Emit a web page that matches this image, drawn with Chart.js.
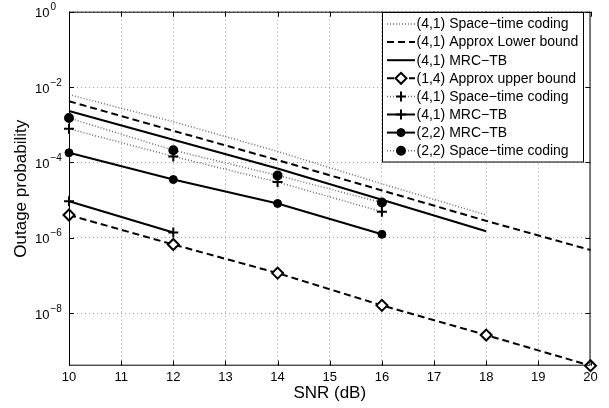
<!DOCTYPE html>
<html>
<head>
<meta charset="utf-8">
<script src="https://cdn.jsdelivr.net/npm/chart.js@4.4.1/dist/chart.umd.min.js"></script>
<style>
  html, body { margin: 0; padding: 0; background: #fff; }
  #wrap { width: 609px; height: 408px; position: relative; }
</style>
</head>
<body>
<div id="wrap"><canvas id="chart"></canvas></div>
<script>
// SNR values (dB)
const snr10to20 = [10, 12, 14, 16, 18, 20];
const snr10to18 = [10, 12, 14, 16, 18];
const snr10to16 = [10, 12, 14, 16];
const snr10to12 = [10, 12];
const xTicks = [10, 11, 12, 13, 14, 15, 16, 17, 18, 19, 20];
const yTickExp = [0, -2, -4, -6, -8];

// outage probability
const stc41 = [6.3e-3, 1.2e-3, 1.95e-4, 2.7e-5, 4.0e-6];
const lower41 = [4.2e-3, 6.9e-4, 1.15e-4, 1.8e-5, 2.8e-6, 4.7e-7];
const mrc41 = [2.3e-3, 4.0e-4, 6.9e-5, 1.02e-5, 1.48e-6];
const upper14 = [4.0e-6, 6.6e-7, 1.15e-7, 1.6e-8, 2.6e-9, 4.0e-10];
const stc41Plus = [7.8e-4, 1.44e-4, 3.0e-5, 4.9e-6];
const mrc41Plus = [9.3e-6, 1.38e-6];
const mrc22 = [1.8e-4, 3.5e-5, 8.1e-6, 1.23e-6];
const stc22 = [1.5e-3, 2.1e-4, 4.5e-5, 8.6e-6];

const labels = [
  '(4,1) Space\u2212time coding',
  '(4,1) Approx Lower bound',
  '(4,1) MRC\u2212TB',
  '(1,4) Approx upper bound',
  '(4,1) Space\u2212time coding',
  '(4,1) MRC\u2212TB',
  '(2,2) MRC\u2212TB',
  '(2,2) Space\u2212time coding'
];

function pts(xs, ys) { return xs.map((x, i) => ({ x: x, y: ys[i] })); }

const FONT = '"Liberation Sans", Arial, Helvetica, sans-serif';
const GREY = '#6a6a6a';

function dotted(label, data, marker) {
  return {
    label: label, data: data,
    borderColor: GREY, borderWidth: 1.5, borderDash: [1, 2],
    pointStyle: marker || false, pointRadius: marker ? (marker === 'circle' ? 4 : 5) : 0,
    pointBorderColor: '#000', pointBackgroundColor: '#000', pointBorderWidth: 2,
    clip: false
  };
}

const datasets = [
  dotted(labels[0], pts(snr10to18, stc41)),
  { label: labels[1], data: pts(snr10to20, lower41), borderColor: '#000', borderWidth: 2,
    borderDash: [7, 4], pointRadius: 0, pointStyle: false, clip: false },
  { label: labels[2], data: pts(snr10to18, mrc41), borderColor: '#000', borderWidth: 2,
    pointRadius: 0, pointStyle: false, clip: false },
  { label: labels[3], data: pts(snr10to20, upper14), borderColor: '#000', borderWidth: 2,
    borderDash: [7, 4], pointStyle: 'rectRot', pointRadius: 5.5, pointBorderWidth: 2,
    pointBorderColor: '#000', pointBackgroundColor: '#fff', clip: false },
  dotted(labels[4], pts(snr10to16, stc41Plus), 'cross'),
  { label: labels[5], data: pts(snr10to12, mrc41Plus), borderColor: '#000', borderWidth: 2,
    pointStyle: 'cross', pointRadius: 5, pointBorderWidth: 2, pointBorderColor: '#000', clip: false },
  { label: labels[6], data: pts(snr10to16, mrc22), borderColor: '#000', borderWidth: 2,
    pointStyle: 'circle', pointRadius: 4, pointBorderWidth: 1, pointBorderColor: '#000',
    pointBackgroundColor: '#000', clip: false },
  dotted(labels[7], pts(snr10to16, stc22), 'circle')
];

// box, inward ticks, y tick labels, axis titles, legend
const matlabAxes = {
  id: 'matlabAxes',
  afterDatasetsDraw(chart) {
    const ctx = chart.ctx;
    const a = chart.chartArea;
    const xs = chart.scales.x, ys = chart.scales.y;
    ctx.save();
    ctx.strokeStyle = '#000';
    ctx.lineWidth = 1;
    ctx.strokeRect(a.left + 0.5, a.top + 0.5, a.right - a.left - 1, a.bottom - a.top - 1);
    const tl = 5;
    ctx.beginPath();
    xTicks.forEach(v => {
      const x = Math.round(xs.getPixelForValue(v)) + 0.5;
      ctx.moveTo(x, a.bottom); ctx.lineTo(x, a.bottom - tl);
      ctx.moveTo(x, a.top); ctx.lineTo(x, a.top + tl);
    });
    yTickExp.forEach(e => {
      const y = Math.round(ys.getPixelForValue(Math.pow(10, e))) + 0.5;
      ctx.moveTo(a.left, y); ctx.lineTo(a.left + tl, y);
      ctx.moveTo(a.right, y); ctx.lineTo(a.right - tl, y);
    });
    ctx.stroke();

    // y tick labels 10^n
    ctx.fillStyle = '#000';
    yTickExp.forEach(e => {
      const y = ys.getPixelForValue(Math.pow(10, e));
      ctx.font = '13px ' + FONT;
      ctx.textAlign = 'right';
      ctx.textBaseline = 'middle';
      ctx.fillText('10', 49.5, y + 2);
      ctx.font = '10px ' + FONT;
      ctx.textAlign = 'left';
      ctx.fillText(e === 0 ? '0' : '\u2212' + (-e), 50.5, y - 4);
    });

    // axis titles
    ctx.font = '17px ' + FONT;
    ctx.textAlign = 'center';
    ctx.textBaseline = 'middle';
    ctx.fillText('SNR (dB)', (a.left + a.right) / 2, 393);
    ctx.save();
    ctx.translate(21, (a.top + a.bottom) / 2);
    ctx.rotate(-Math.PI / 2);
    ctx.fillText('Outage probability', 0, 0);
    ctx.restore();
    ctx.restore();
  },
  afterDraw(chart) {
    const ctx = chart.ctx;
    const bx = 382.5, by = 12.5, bw = 201, bh = 149.5;
    ctx.save();
    ctx.fillStyle = '#fff';
    ctx.fillRect(bx, by, bw, bh);
    ctx.strokeStyle = '#000';
    ctx.lineWidth = 1;
    ctx.strokeRect(bx, by, bw, bh);
    chart.data.datasets.forEach((ds, i) => {
      const y = 24 + i * 18.1;
      ctx.save();
      ctx.strokeStyle = ds.borderColor;
      ctx.lineWidth = ds.borderWidth;
      ctx.setLineDash(ds.borderDash || []);
      ctx.beginPath();
      ctx.moveTo(387, y); ctx.lineTo(415, y);
      ctx.stroke();
      ctx.restore();
      if (ds.pointStyle) {
        ctx.save();
        ctx.strokeStyle = ds.pointBorderColor;
        ctx.fillStyle = ds.pointBackgroundColor || '#000';
        ctx.lineWidth = ds.pointBorderWidth;
        Chart.helpers.drawPoint(ctx, {
          pointStyle: ds.pointStyle, radius: ds.pointRadius, borderWidth: ds.pointBorderWidth, rotation: 0
        }, 401, y);
        ctx.restore();
      }
      ctx.fillStyle = '#000';
      ctx.font = '14px ' + FONT;
      ctx.textAlign = 'left';
      ctx.textBaseline = 'middle';
      ctx.fillText(ds.label, 416.5, y + 0.5);
    });
    ctx.restore();
  }
};

new Chart(document.getElementById('chart'), {
  type: 'line',
  data: { datasets: datasets },
  options: {
    responsive: true,
    maintainAspectRatio: false,
    animation: false,
    events: [],
    layout: { padding: { top: 11.7, right: 18.5, left: 0, bottom: 0 } },
    plugins: { legend: { display: false }, tooltip: { enabled: false } },
    elements: { line: { tension: 0 } },
    scales: {
      x: {
        type: 'linear', min: 10, max: 20,
        afterBuildTicks: s => { s.ticks = xTicks.map(v => ({ value: v })); },
        afterFit: s => { s.height = 42.3; },
        ticks: { color: '#000', font: { family: FONT, size: 13 }, padding: 4, maxRotation: 0 },
        grid: { color: '#a0a0a0', lineWidth: 1, drawTicks: false },
        border: { display: false, dash: [1, 3] }
      },
      y: {
        type: 'logarithmic', min: 4e-10, max: 1,
        afterBuildTicks: s => { s.ticks = yTickExp.map(e => ({ value: Math.pow(10, e) })); },
        afterFit: s => { s.width = 69; },
        ticks: { display: false },
        grid: { color: '#a0a0a0', lineWidth: 1, drawTicks: false },
        border: { display: false, dash: [1, 3] }
      }
    }
  },
  plugins: [matlabAxes]
});
</script>
</body>
</html>
